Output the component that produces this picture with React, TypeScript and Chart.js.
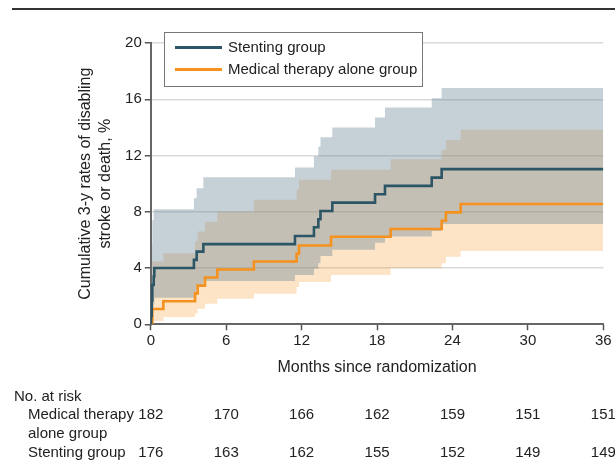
import React, { useEffect, useRef } from "react";
import { Chart, registerables } from "chart.js";

Chart.register(...registerables);

// ---- Data ----
const stentTimes = [0, 0.02, 0.07, 0.12, 0.23, 0.28, 3.43, 3.65, 4.18, 11.47, 12.98, 13.33, 13.5, 14.44, 17.84, 18.63, 22.35, 23.14, 36];
const stentEst = [0, 0.6, 1.7, 2.8, 3.4, 4.0, 4.58, 5.17, 5.7, 6.28, 6.9, 7.47, 8.06, 8.65, 9.25, 9.84, 10.43, 11.03, 11.03];
const stentUpper = [0, 3.0, 5.7, 7.42, 8.18, 8.18, 8.97, 9.68, 10.46, 11.15, 11.95, 12.64, 13.3, 14.0, 14.7, 15.42, 16.08, 16.8, 16.8];
const stentLower = [0, 0.05, 0.35, 0.9, 1.4, 1.89, 2.3, 2.7, 3.08, 3.5, 3.95, 4.35, 4.85, 5.3, 5.8, 6.24, 6.64, 7.14, 7.14];

const medTimes = [0, 0.12, 1.0, 3.52, 3.73, 4.31, 5.29, 8.2, 11.6, 11.79, 14.34, 19.08, 23.14, 23.48, 24.65, 36];
const medEst = [0, 1.09, 1.64, 2.2, 2.75, 3.33, 3.9, 4.46, 5.02, 5.6, 6.22, 6.78, 7.36, 7.96, 8.55, 8.55];
const medUpper = [0, 4.46, 5.05, 5.88, 6.59, 7.3, 8.0, 8.85, 9.56, 10.27, 10.98, 11.74, 12.4, 13.1, 13.83, 13.83];
const medLower = [0, 0.24, 0.52, 0.76, 1.1, 1.46, 1.82, 2.18, 2.66, 3.0, 3.5, 3.99, 4.34, 4.81, 5.22, 5.22];

const monthTicks = [0, 6, 12, 18, 24, 30, 36];
const riskMedical = [182, 170, 166, 162, 159, 151, 151];
const riskStent = [176, 163, 162, 155, 152, 149, 149];

const seriesNames = ["Stenting group", "Medical therapy alone group"];
const yTitle = ["Cumulative 3-y rates of disabling", "stroke or death, %"];
const xTitle = "Months since randomization";

const STENT_COLOR = "#2c5665";
const MED_COLOR = "#f5911e";
const FONT = "'Liberation Sans', Arial, sans-serif";
const TEXT = "#222";

const pts = (ts: number[], vs: number[]) => ts.map((t, i) => ({ x: t, y: vs[i] }));

const overlayPlugin = {
  id: "overlay",
  afterDraw(chart: any) {
    const ctx = chart.ctx;
    const xs = chart.scales.x;
    ctx.save();
    // top rule
    ctx.strokeStyle = "#333";
    ctx.lineWidth = 2;
    ctx.beginPath();
    ctx.moveTo(12, 9);
    ctx.lineTo(615, 9);
    ctx.stroke();

    // legend box
    ctx.fillStyle = "#fff";
    ctx.fillRect(164.5, 32.5, 258, 54);
    ctx.strokeStyle = "#777";
    ctx.lineWidth = 1;
    ctx.strokeRect(164.5, 32.5, 258, 54);
    const ly = [47.5, 69.5];
    const lc = [STENT_COLOR, MED_COLOR];
    ctx.font = `15px ${FONT}`;
    ctx.textBaseline = "middle";
    ctx.textAlign = "left";
    for (let i = 0; i < 2; i++) {
      ctx.strokeStyle = lc[i];
      ctx.lineWidth = 3;
      ctx.beginPath();
      ctx.moveTo(175, ly[i]);
      ctx.lineTo(222, ly[i]);
      ctx.stroke();
      ctx.fillStyle = TEXT;
      ctx.fillText(seriesNames[i], 228, ly[i] + 0.5);
    }

    // risk table
    ctx.fillStyle = TEXT;
    ctx.font = `15px ${FONT}`;
    ctx.textAlign = "left";
    ctx.fillText("No. at risk", 14, 397);
    ctx.fillText("Medical therapy", 28, 415);
    ctx.fillText("alone group", 28, 434);
    ctx.fillText("Stenting group", 28, 453);
    ctx.textAlign = "center";
    monthTicks.forEach((m, i) => {
      const px = xs.getPixelForValue(m);
      ctx.fillText(String(riskMedical[i]), px, 415);
      ctx.fillText(String(riskStent[i]), px, 453);
    });
    ctx.restore();
  },
};

export default function App() {
  const ref = useRef<HTMLCanvasElement | null>(null);
  useEffect(() => {
    if (!ref.current) return;
    Chart.defaults.font.family = FONT;
    const chart = new Chart(ref.current, {
      type: "line",
      data: {
        datasets: [
          { label: seriesNames[0], data: pts(stentTimes, stentEst), stepped: true, borderColor: STENT_COLOR, borderWidth: 2.6, pointRadius: 0, fill: false },
          { label: seriesNames[1], data: pts(medTimes, medEst), stepped: true, borderColor: MED_COLOR, borderWidth: 2.6, pointRadius: 0, fill: false },
          { label: "s-up", data: pts(stentTimes, stentUpper), stepped: true, borderWidth: 0, borderColor: "rgba(0,0,0,0)", pointRadius: 0, fill: "+1", backgroundColor: "rgba(106,134,152,0.39)" },
          { label: "s-lo", data: pts(stentTimes, stentLower), stepped: true, borderWidth: 0, borderColor: "rgba(0,0,0,0)", pointRadius: 0, fill: false },
          { label: "m-up", data: pts(medTimes, medUpper), stepped: true, borderWidth: 0, borderColor: "rgba(0,0,0,0)", pointRadius: 0, fill: "+1", backgroundColor: "rgba(247,148,29,0.25)" },
          { label: "m-lo", data: pts(medTimes, medLower), stepped: true, borderWidth: 0, borderColor: "rgba(0,0,0,0)", pointRadius: 0, fill: false },
        ],
      },
      options: {
        responsive: false,
        animation: false,
        layout: { padding: { left: 0, top: 43, right: 11.7, bottom: 98.4 } },
        plugins: {
          legend: { display: false },
          tooltip: { enabled: false },
          filler: { drawTime: "beforeDatasetsDraw" },
        },
        scales: {
          x: {
            type: "linear",
            min: 0,
            max: 36,
            afterFit: (axis: any) => { axis.height = 53.3; },
            afterBuildTicks: (axis: any) => { axis.ticks = monthTicks.map((v) => ({ value: v })); },
            ticks: { color: TEXT, font: { size: 15 }, padding: 2 },
            grid: { drawOnChartArea: false, tickColor: "#555", tickLength: 6, tickWidth: 1.5 },
            border: { color: "#666", width: 2 },
            title: { display: true, text: xTitle, color: TEXT, font: { size: 16 }, padding: { top: 0, bottom: 0 } },
          },
          y: {
            min: 0,
            max: 20,
            afterFit: (axis: any) => { axis.width = 150.8; },
            ticks: { stepSize: 4, color: TEXT, font: { size: 15 }, padding: 3 },
            grid: {
              color: (c: any) => (c.tick && c.tick.value === 0 ? "rgba(0,0,0,0)" : "#d9d9d9"),
              lineWidth: 1.5,
              tickColor: "#555",
              tickLength: 6,
              tickWidth: 1.5,
            },
            border: { color: "#666", width: 2 },
            title: { display: true, text: yTitle, color: TEXT, font: { size: 16, lineHeight: 1.22 }, padding: { top: 76, bottom: 0 } },
          },
        },
      },
      plugins: [overlayPlugin],
    } as any);
    return () => chart.destroy();
  }, []);
  return (
    <div style={{ position: "absolute", left: 0, top: 0, width: 615, height: 476, background: "#fff" }}>
      <canvas ref={ref} width={615} height={476} />
    </div>
  );
}
